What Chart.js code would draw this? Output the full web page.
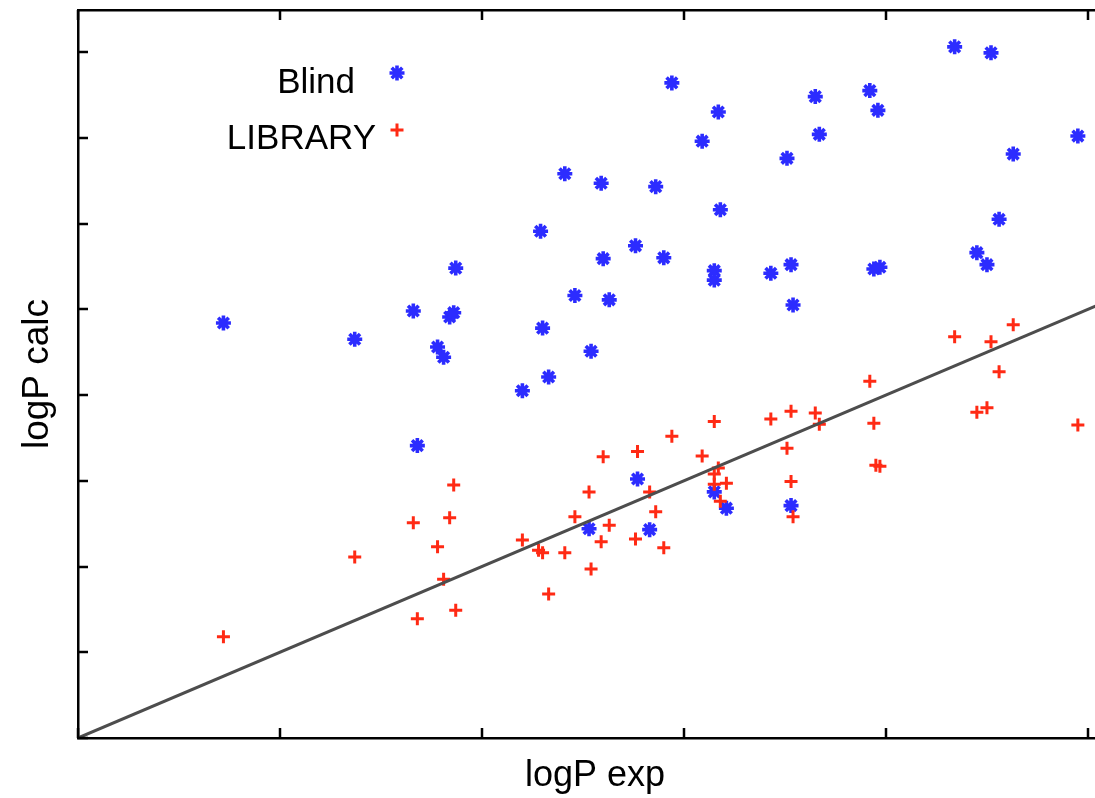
<!DOCTYPE html>
<html>
<head>
<meta charset="utf-8">
<script src="https://cdn.jsdelivr.net/npm/chart.js@4.4.0/dist/chart.umd.min.js"></script>
<style>
  body { margin: 0; background: #fff; overflow: hidden; }
  #clip { width: 1095px; height: 798px; overflow: hidden; }
  #wrap { width: 1112px; height: 798px; position: relative; }
</style>
</head>
<body>
<div id="clip"><div id="wrap"><canvas id="myChart"></canvas></div></div>
<script>
// logP exp (x) / logP calc (y), axis units = one tick step
var blindX = [0.72, 1.37, 1.66, 1.68, 1.78, 1.81, 1.84, 1.86, 1.87, 2.20,
              2.29, 2.30, 2.33, 2.41, 2.46, 2.53, 2.54, 2.59, 2.60, 2.63,
              2.76, 2.77, 2.83, 2.86, 2.90, 2.94, 3.09, 3.15, 3.15, 3.15,
              3.17, 3.18, 3.21, 3.43, 3.51, 3.53, 3.53, 3.54, 3.65, 3.67,
              3.92, 3.94, 3.96, 3.97, 4.34, 4.45, 4.50, 4.52, 4.56, 4.63, 4.95];
var blindY = [4.84, 4.65, 4.98, 3.41, 4.56, 4.44, 4.91, 4.96, 5.48, 4.05,
              5.91, 4.78, 4.21, 6.58, 5.16, 2.44, 4.51, 6.47, 5.59, 5.11,
              5.74, 3.02, 2.43, 6.43, 5.60, 7.64, 6.96, 5.45, 5.34, 2.87,
              7.30, 6.16, 2.68, 5.42, 6.76, 5.52, 2.71, 5.05, 7.48, 7.04,
              7.55, 5.47, 7.32, 5.49, 8.06, 5.66, 5.52, 7.99, 6.05, 6.81, 7.02];

var libX = [0.72, 1.37, 1.66, 1.68, 1.78, 1.81, 1.84, 1.86, 1.87, 2.20,
            2.28, 2.30, 2.33, 2.41, 2.46, 2.53, 2.54, 2.59, 2.60, 2.63,
            2.76, 2.77, 2.83, 2.86, 2.90, 2.94, 3.09, 3.15, 3.17, 3.15,
            3.15, 3.21, 3.18, 3.43, 3.53, 3.51, 3.53, 3.54, 3.65, 3.67,
            3.92, 3.94, 3.95, 3.97, 4.34, 4.45, 4.50, 4.52, 4.56, 4.63, 4.95];
var libY = [1.18, 2.11, 2.51, 1.39, 2.23, 1.85, 2.57, 2.95, 1.49, 2.31,
            2.19, 2.16, 1.68, 2.16, 2.58, 2.87, 1.97, 2.29, 3.28, 2.48,
            2.32, 3.34, 2.87, 2.64, 2.22, 3.52, 3.29, 3.69, 3.15, 3.08,
            2.96, 2.97, 2.76, 3.72, 3.81, 3.38, 2.99, 2.58, 3.79, 3.66,
            4.16, 3.67, 3.18, 3.17, 4.68, 3.80, 3.85, 4.62, 4.27, 4.82, 3.65];

var diagX = [0, 5.3];
var xMax = 5.119;
var yMax = 8.49;

function pts(xs, ys) {
    var out = [];
    for (var i = 0; i < xs.length; i++) out.push({x: xs[i], y: ys[i]});
    return out;
}

var FONT = 'Liberation Sans, Arial, Helvetica, sans-serif';

// gnuplot-like inward tick marks on bottom, top and left axes
var innerTicks = {
    id: 'innerTicks',
    afterDatasetsDraw: function (chart) {
        var ctx = chart.ctx, a = chart.chartArea;
        var xs = chart.scales.x, ys = chart.scales.y;
        ctx.save();
        ctx.strokeStyle = '#000';
        ctx.lineWidth = 2.5;
        ctx.beginPath();
        xs.ticks.forEach(function (t) {
            if (!Number.isInteger(t.value)) return;
            var px = Math.round(xs.getPixelForValue(t.value));
            ctx.moveTo(px, a.bottom); ctx.lineTo(px, a.bottom - 10);
            ctx.moveTo(px, a.top); ctx.lineTo(px, a.top + 10);
        });
        ys.ticks.forEach(function (t) {
            if (!Number.isInteger(t.value)) return;
            var py = Math.round(ys.getPixelForValue(t.value));
            ctx.moveTo(a.left, py); ctx.lineTo(a.left + 10, py);
        });
        ctx.stroke();
        ctx.restore();
    }
};

// key in the top left, text then symbol
var keyBox = {
    id: 'keyBox',
    afterDraw: function (chart, args, opts) {
        var ctx = chart.ctx;
        ctx.save();
        ctx.font = '35px ' + FONT;
        ctx.textAlign = 'right';
        ctx.textBaseline = 'alphabetic';
        opts.items.forEach(function (it) {
            var ds = chart.data.datasets[it.ds];
            ctx.fillStyle = '#000';
            ctx.fillText(ds.label, it.textX, it.textY);
            ctx.strokeStyle = ds.borderColor;
            ctx.fillStyle = ds.backgroundColor;
            ctx.lineWidth = ds.borderWidth;
            Chart.helpers.drawPoint(ctx, {
                pointStyle: ds.pointStyle, radius: ds.pointRadius,
                rotation: 0, borderWidth: ds.borderWidth
            }, it.markX, it.markY);
        });
        ctx.restore();
    }
};

var ctx = document.getElementById('myChart');
var myChart = new Chart(ctx, {
    type: 'scatter',
    data: {
        datasets: [
            {
                type: 'line',
                label: 'y = x',
                data: pts(diagX, diagX),
                borderColor: '#4d4d4d',
                borderWidth: 3,
                pointRadius: 0,
                fill: false
            },
            {
                label: 'LIBRARY',
                data: pts(libX, libY),
                pointStyle: 'cross',
                pointRadius: 6.5,
                borderColor: '#ff2a14',
                backgroundColor: '#ff2a14',
                borderWidth: 3
            },
            {
                label: 'Blind',
                data: pts(blindX, blindY),
                pointStyle: 'star',
                pointRadius: 7.5,
                borderColor: '#2c2cff',
                backgroundColor: '#2c2cff',
                borderWidth: 3.6
            }
        ]
    },
    options: {
        responsive: true,
        maintainAspectRatio: false,
        animation: false,
        layout: { padding: 0, autoPadding: false },
        plugins: {
            legend: { display: false },
            tooltip: { enabled: false },
            keyBox: {
                items: [
                    { ds: 2, textX: 355, textY: 93, markX: 397, markY: 73 },
                    { ds: 1, textX: 376, textY: 149, markX: 397, markY: 130 }
                ]
            }
        },
        scales: {
            x: {
                type: 'linear',
                position: 'bottom',
                min: 0,
                max: xMax,
                ticks: { display: false, stepSize: 1, includeBounds: false },
                grid: { display: true, drawOnChartArea: false, drawTicks: false },
                border: { display: true, color: '#000', width: 2.5 },
                title: {
                    display: true, text: 'logP exp', color: '#000',
                    font: { family: FONT, size: 36 },
                    padding: { top: 0, bottom: 0 }
                },
                afterFit: function (scale) { scale.height = 60; }
            },
            x2: {
                type: 'linear',
                position: 'top',
                min: 0,
                max: xMax,
                ticks: { display: false, stepSize: 1, includeBounds: false },
                grid: { display: true, drawOnChartArea: false, drawTicks: false },
                border: { display: true, color: '#000', width: 2.5 },
                afterFit: function (scale) { scale.height = 10; }
            },
            y: {
                type: 'linear',
                position: 'left',
                min: 0,
                max: yMax,
                ticks: { display: false, stepSize: 1, includeBounds: false },
                grid: { display: true, drawOnChartArea: false, drawTicks: false },
                border: { display: true, color: '#000', width: 2.5 },
                title: {
                    display: true, text: 'logP calc', color: '#000',
                    font: { family: FONT, size: 37 },
                    padding: { top: 16, bottom: 0 }
                },
                afterFit: function (scale) { scale.width = 78; }
            }
        }
    },
    plugins: [innerTicks, keyBox]
});
</script>
</body>
</html>
